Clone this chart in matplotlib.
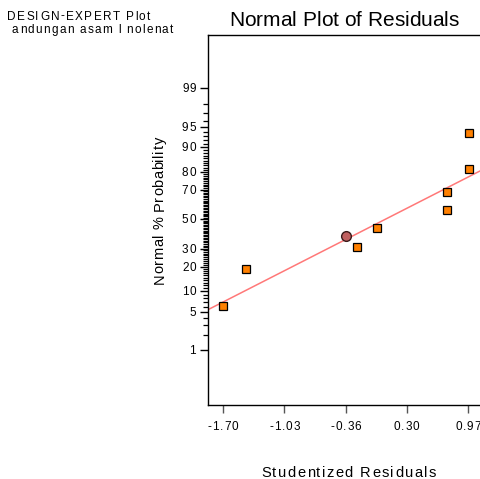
import numpy as np
import matplotlib.pyplot as plt
from statistics import NormalDist

plt.rcParams['font.family'] = ['Liberation Sans', 'DejaVu Sans']

# residuals (squares) and their normal % probability
residuals = [-1.70, -1.45, -0.24, -0.02, 0.74, 0.74, 0.98, 0.98]
probability = [6.25, 18.75, 31.25, 43.75, 56.25, 68.75, 81.25, 93.75]
# highlighted point (circle)
hl_x, hl_p = -0.36, 38.1
# reference line ends
line_x = [-1.863, 1.10]
line_p = [5.4, 80.4]

x_ticks = [-1.70, -1.03, -0.36, 0.30, 0.97]
y_major = [1, 5, 10, 20, 30, 50, 70, 80, 90, 95, 99]
y_minor = [2, 3, 4] + [v for v in range(6, 95) if v not in y_major] + [96, 97, 98]

nd = NormalDist()
z = lambda p: [nd.inv_cdf(v / 100.0) for v in np.atleast_1d(p)]

W, H = 480, 479
fig = plt.figure(figsize=(W / 100, H / 100), dpi=100)
ax = fig.add_axes([208 / W, 74 / H, 272 / W, 370.5 / H])
renderer = fig.canvas.get_renderer()


def text_w(t, size):
    tt = fig.text(0, 0, t + '|', fontsize=size)
    w = tt.get_window_extent(renderer).width
    tt.remove()
    return w


def tracked(x, y, s, size, track, ha='left', rot=0):
    # x, y in pixels from top-left, y = baseline (x = baseline when rotated)
    base = text_w('', size)
    offs = [text_w(s[:i], size) - base + i * track for i in range(len(s))]
    total = text_w(s, size) - base + (len(s) - 1) * track
    start = {'left': 0.0, 'center': -total / 2, 'right': -total}[ha]
    for ch, o in zip(s, offs):
        if ch == ' ':
            continue
        d = start + o
        if rot == 0:
            fig.text((x + d) / W, 1 - y / H, ch, fontsize=size,
                     ha='left', va='baseline')
        else:
            fig.text(x / W, 1 - (y - d) / H, ch, fontsize=size, ha='left',
                     va='baseline', rotation=90, rotation_mode='anchor')


ax.plot(line_x, z(line_p), color='#ff7878', lw=1.1, zorder=2)
ax.plot(residuals, z(probability), ls='none', marker='s', ms=6.3,
        mfc='#ff8000', mec='black', mew=0.9, zorder=3)
ax.plot([hl_x], z(hl_p), ls='none', marker='o', ms=7,
        mfc='#c06060', mec='#3a1a1a', mew=1.0, zorder=4)

ax.set_xlim(-1.863, 1.10)
ax.set_ylim(-3.30, 3.28)

ax.set_xticks(x_ticks)
ax.set_yticks(z(y_major))
ax.set_yticks(z(y_minor), minor=True)

ax.tick_params(axis='x', direction='out', length=6, width=1, color='#555555',
               labelbottom=False)
ax.tick_params(axis='y', which='major', direction='out', length=6, width=1,
               labelleft=False)
ax.tick_params(axis='y', which='minor', direction='out', length=3.5, width=0.9)

ax.spines['right'].set_visible(False)
for s in ['left', 'top', 'bottom']:
    ax.spines[s].set_linewidth(1.0)

# tick labels, spaced like the original
for v in x_ticks:
    px = ax.transData.transform((v, 0))[0]
    tracked(px, 430, '%.2f' % v, 8.5, 0.9, ha='center')
for v in y_major:
    py = H - ax.transData.transform((0, z(v)[0]))[1]
    tracked(196, py + 4, str(v), 8.5, 0.9, ha='right')

tracked(344, 26, 'Normal Plot of Residuals', 15, 0.0, ha='center')
tracked(348.5, 477, 'Studentized Residuals', 10.5, 1.4, ha='center')
tracked(163.5, 210.5, 'Normal % Probability', 10.5, 0.5, ha='center', rot=90)
tracked(7, 19.5, 'DESIGN-EXPERT Plot', 8.5, 1.4)
tracked(12, 33, 'andungan asam l nolenat', 8.5, 1.3)

fig.savefig('out.png', dpi=100)
